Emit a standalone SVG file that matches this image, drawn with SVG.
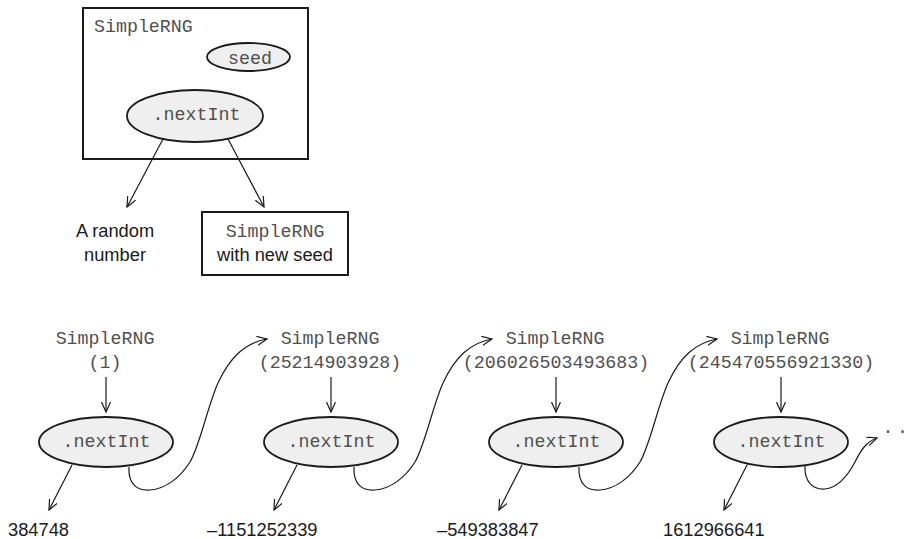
<svg xmlns="http://www.w3.org/2000/svg" width="913" height="539" viewBox="0 0 913 539">
<style>
.mono{font-family:"Liberation Mono","DejaVu Sans Mono",monospace;font-size:18.3px;fill:#505050}
.sans{font-family:"Liberation Sans",Arial,sans-serif;font-size:18.3px;fill:#1a1a1a}
.box{fill:#fff;stroke:#1a1a1a;stroke-width:2}
.ell{fill:#efefef;stroke:#1a1a1a;stroke-width:1.8}
.ln{fill:none;stroke:#1a1a1a;stroke-width:1.2}
.mid{text-anchor:middle}
</style>
<defs>
<marker id="arr" markerUnits="userSpaceOnUse" markerWidth="14" markerHeight="12" refX="10" refY="4.5" orient="auto">
<path d="M0,0 L10,4.5 L0,9" fill="none" stroke="#1a1a1a" stroke-width="1.2"/>
</marker>
</defs>

<g id="rng-box">
<rect class="box" x="83" y="8" width="225" height="151"/>
<text class="mono" x="94" y="32">SimpleRNG</text>
</g>
<g id="seed">
<ellipse class="ell" cx="248.5" cy="57" rx="41.5" ry="14"/>
<text class="mono mid" x="250" y="64">seed</text>
</g>
<g id="nextInt-top">
<ellipse class="ell" cx="195" cy="116" rx="68" ry="26"/>
<text class="mono mid" x="196.5" y="120">.nextInt</text>
</g>
<g id="random-number">
<text class="sans mid" x="115" y="237">A random</text>
<text class="sans mid" x="115" y="261">number</text>
</g>
<g id="new-rng">
<rect class="box" x="202" y="212" width="146" height="63"/>
<text class="mono mid" x="275" y="237">SimpleRNG</text>
<text class="sans mid" x="275" y="261">with new seed</text>
</g>

<g id="rng1">
<text class="mono mid" x="105" y="344">SimpleRNG</text>
<text class="mono mid" x="105" y="368">(1)</text>
</g>
<g id="next1">
<ellipse class="ell" cx="106" cy="442" rx="67" ry="25"/>
<text class="mono mid" x="106.5" y="447">.nextInt</text>
</g>
<g id="num1"><text class="sans" x="8" y="536">384748</text></g>

<g id="rng2">
<text class="mono mid" x="330" y="344">SimpleRNG</text>
<text class="mono mid" x="330" y="368">(25214903928)</text>
</g>
<g id="next2">
<ellipse class="ell" cx="331" cy="442" rx="67" ry="25"/>
<text class="mono mid" x="331.5" y="447">.nextInt</text>
</g>
<g id="num2"><text class="sans" x="207" y="536">–1151252339</text></g>

<g id="rng3">
<text class="mono mid" x="555" y="344">SimpleRNG</text>
<text class="mono mid" x="556" y="368">(206026503493683)</text>
</g>
<g id="next3">
<ellipse class="ell" cx="556" cy="442" rx="67" ry="25"/>
<text class="mono mid" x="556.5" y="447">.nextInt</text>
</g>
<g id="num3"><text class="sans" x="437" y="536">–549383847</text></g>

<g id="rng4">
<text class="mono mid" x="780" y="344">SimpleRNG</text>
<text class="mono mid" x="781" y="368">(245470556921330)</text>
</g>
<g id="next4">
<ellipse class="ell" cx="781" cy="442" rx="67" ry="25"/>
<text class="mono mid" x="781.5" y="447">.nextInt</text>
</g>
<g id="num4"><text class="sans" x="663" y="536">1612966641</text></g>
<g id="more"><text class="mono" x="882.6" y="433" letter-spacing="3.5">..</text></g>

<g id="connectors">
<line class="ln" x1="163" y1="139" x2="127" y2="207" marker-end="url(#arr)"/>
<line class="ln" x1="228" y1="139" x2="264" y2="207" marker-end="url(#arr)"/>

<line class="ln" x1="106" y1="377" x2="106" y2="412" marker-end="url(#arr)"/>
<line class="ln" x1="331" y1="377" x2="331" y2="412" marker-end="url(#arr)"/>
<line class="ln" x1="556" y1="377" x2="556" y2="412" marker-end="url(#arr)"/>
<line class="ln" x1="781" y1="377" x2="781" y2="412" marker-end="url(#arr)"/>

<line class="ln" x1="72" y1="465" x2="49" y2="510" marker-end="url(#arr)"/>
<line class="ln" x1="297" y1="465" x2="274" y2="510" marker-end="url(#arr)"/>
<line class="ln" x1="522" y1="465" x2="499" y2="510" marker-end="url(#arr)"/>
<line class="ln" x1="747" y1="465" x2="724" y2="510" marker-end="url(#arr)"/>

<path class="ln" d="M129,467 C128,485 138,491 150,490 C165,489 180,478 190,462 C200,445 208,405 218,383 C230,357 245,343 267,339" marker-end="url(#arr)"/>
<path class="ln" d="M354,467 C353,485 363,491 375,490 C390,489 405,478 415,462 C425,445 433,405 443,383 C455,357 470,343 492,339" marker-end="url(#arr)"/>
<path class="ln" d="M579,467 C578,485 588,491 600,490 C615,489 630,478 640,462 C650,445 658,405 668,383 C680,357 695,343 717,339" marker-end="url(#arr)"/>
<path class="ln" d="M805,465 C804,483 814,490 825,489 C838,488 848,475 855,462 C861,450 866,442 877,438" marker-end="url(#arr)"/>
</g>
</svg>
